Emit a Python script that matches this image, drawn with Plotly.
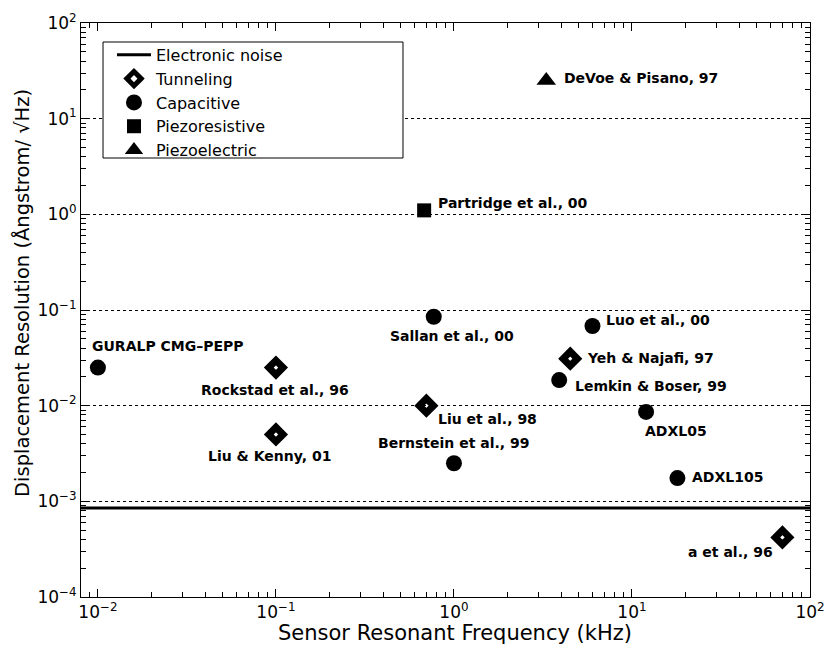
import math
import plotly.graph_objects as go

# ---- data -------------------------------------------------------------
labels = [
    "GURALP CMG–PEPP", "Rockstad et al., 96", "Liu & Kenny, 01", "Liu et al., 98",
    "Bernstein et al., 99", "Sallan et al., 00", "Partridge et al., 00", "Luo et al., 00",
    "Yeh & Najafi, 97", "Lemkin & Boser, 99", "ADXL05", "ADXL105",
    "DeVoe & Pisano, 97", "a et al., 96",
]
freq_khz = [0.01, 0.1, 0.1, 0.7, 1.0, 0.77, 0.68, 6.0, 4.5, 3.9, 12.0, 18.0, 3.3, 70.0]
resolution = [0.025, 0.025, 0.005, 0.01, 0.0025, 0.085, 1.1, 0.068, 0.031, 0.0185,
              0.0086, 0.00175, 25.0, 4.2e-4]
sensor_type = [
    "Capacitive", "Tunneling", "Tunneling", "Tunneling", "Capacitive", "Capacitive",
    "Piezoresistive", "Capacitive", "Tunneling", "Capacitive", "Capacitive", "Capacitive",
    "Piezoelectric", "Tunneling",
]
noise_floor = 8.5e-4

x_ticks = [0.01, 0.1, 1, 10, 100]
x_ticktext = ["10<sup>−2</sup>", "10<sup>−1</sup>", "10<sup>0</sup>", "10<sup>1</sup>", "10<sup>2</sup>"]
y_ticks = [1e-4, 1e-3, 1e-2, 1e-1, 1, 10, 100]
y_ticktext = ["10<sup>−4</sup>", "10<sup>−3</sup>", "10<sup>−2</sup>", "10<sup>−1</sup>",
              "10<sup>0</sup>", "10<sup>1</sup>", "10<sup>2</sup>"]

x_title = "Sensor Resonant Frequency (kHz)"
y_title = "Displacement Resolution (Ångstrom/ √Hz)"

# ---- styling ----------------------------------------------------------
X_RANGE = [-2.095, 2.0]
Y_RANGE = [-4.0, 2.0]
FONT = "DejaVu Sans"

marker_styles = {
    "Tunneling": dict(symbol="diamond-open", size=11, color="black", line=dict(color="black", width=7)),
    "Capacitive": dict(symbol="circle", size=16, color="black"),
    "Piezoresistive": dict(symbol="square", size=14, color="black"),
    "Piezoelectric": dict(symbol="triangle-up", size=17, color="black"),
}

# label placement: (xanchor, xshift px, yshift px)
label_pos = {
    "GURALP CMG–PEPP": ("left", -8, 22),
    "Rockstad et al., 96": ("center", -1, -22),
    "Liu & Kenny, 01": ("center", -6, -22),
    "Liu et al., 98": ("left", 10, -13),
    "Bernstein et al., 99": ("center", 0, 20),
    "Sallan et al., 00": ("center", 18, -19),
    "Partridge et al., 00": ("left", 12, 7),
    "Luo et al., 00": ("left", 12, 6),
    "Yeh & Najafi, 97": ("left", 15, 1),
    "Lemkin & Boser, 99": ("left", 14, -6),
    "ADXL05": ("left", -3, -19),
    "ADXL105": ("left", 13, 1),
    "DeVoe & Pisano, 97": ("left", 16, 3),
    "a et al., 96": ("right", -7, -15),
}

fig = go.Figure()

# electronic noise floor across the whole frequency axis
fig.add_trace(go.Scatter(
    x=[10 ** X_RANGE[0], 10 ** X_RANGE[1]], y=[noise_floor, noise_floor],
    mode="lines", line=dict(color="black", width=3),
    name="Electronic noise", cliponaxis=False,
))

for kind in ["Tunneling", "Capacitive", "Piezoresistive", "Piezoelectric"]:
    idx = [i for i, t in enumerate(sensor_type) if t == kind]
    fig.add_trace(go.Scatter(
        x=[freq_khz[i] for i in idx], y=[resolution[i] for i in idx],
        mode="markers", marker=marker_styles[kind], name=kind,
    ))

# annotations on log axes are positioned in log10 units
for name, fx, ry in zip(labels, freq_khz, resolution):
    anchor, dx, dy = label_pos[name]
    fig.add_annotation(
        x=math.log10(fx), y=math.log10(ry), xref="x", yref="y",
        text=name, showarrow=False, xanchor=anchor, yanchor="middle",
        xshift=dx, yshift=dy,
        font=dict(family=FONT, size=14, color="black", weight="bold"),
    )

# axis titles
fig.add_annotation(
    x=0.513, y=-0.0635, xref="paper", yref="paper", text=x_title, showarrow=False,
    xanchor="center", yanchor="middle", font=dict(family=FONT, size=21, color="black"),
)
fig.add_annotation(
    x=-0.081, y=0.5296, xref="paper", yref="paper", text=y_title, showarrow=False,
    textangle=-90, xanchor="center", yanchor="middle",
    font=dict(family=FONT, size=19.5, color="black"),
)

# legend frame
fig.add_shape(
    type="rect", xref="paper", yref="paper",
    x0=0.0302, x1=0.4417, y0=0.7648, y1=0.9669,
    line=dict(color="black", width=1), fillcolor="white", layer="above",
)

minor_x = [k * 10 ** n for n in range(-3, 2) for k in range(2, 10)]
minor_y = [k * 10 ** n for n in range(-4, 2) for k in range(2, 10)]

axis_common = dict(
    type="log", showline=True, linecolor="black", linewidth=1, mirror="allticks",
    ticks="inside", ticklen=8, tickcolor="black", tickwidth=1, automargin=False,
    tickfont=dict(family=FONT, size=17, color="black"), zeroline=False,
)

fig.update_xaxes(
    **axis_common, range=X_RANGE, tickmode="array", tickvals=x_ticks, ticktext=x_ticktext,
    showgrid=False,
    minor=dict(ticks="inside", ticklen=5, tickcolor="black", tickmode="array",
               tickvals=minor_x, showgrid=False),
)
fig.update_yaxes(
    **axis_common, range=Y_RANGE, tickmode="array", tickvals=y_ticks, ticktext=y_ticktext,
    showgrid=True, gridcolor="black", gridwidth=1, griddash="dot",
    minor=dict(ticks="inside", ticklen=5, tickcolor="black", tickmode="array",
               tickvals=minor_y, showgrid=False),
)

fig.update_layout(
    width=828, height=656,
    margin=dict(l=81, r=18, t=23, b=59),
    paper_bgcolor="white", plot_bgcolor="white",
    font=dict(family=FONT, color="black"),
    showlegend=True,
    legend=dict(
        x=0.0425, y=0.974, xanchor="left", yanchor="top",
        bgcolor="rgba(0,0,0,0)", borderwidth=0, itemwidth=34,
        font=dict(family=FONT, size=16, color="black"),
        tracegroupgap=0,
    ),
)

fig.write_html("out.html")
